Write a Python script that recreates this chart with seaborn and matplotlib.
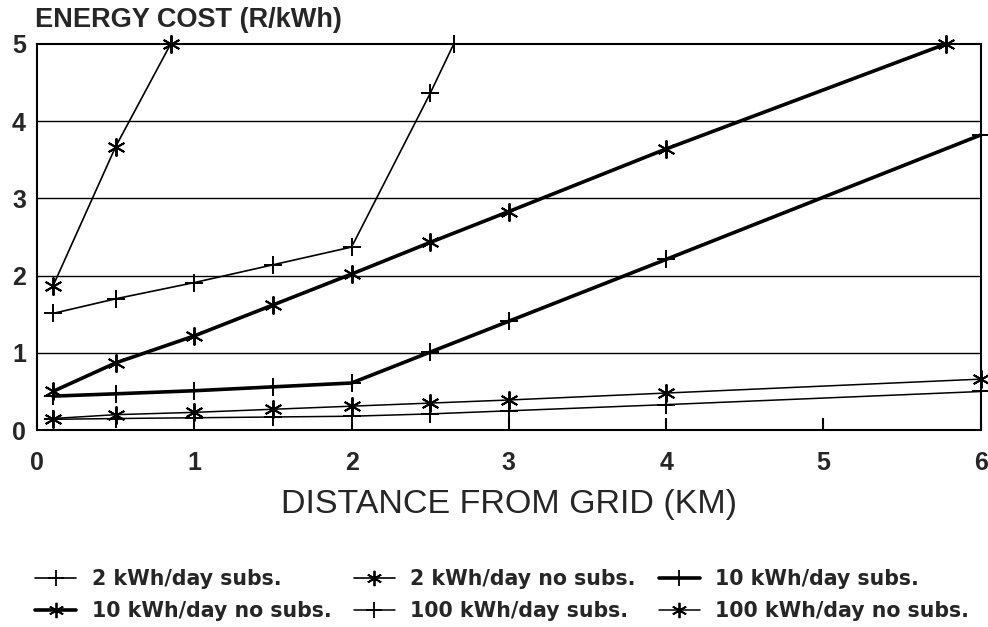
import matplotlib
matplotlib.use("Agg")
import matplotlib.pyplot as plt
import seaborn as sns
import pandas as pd
from matplotlib.lines import Line2D

sns.set_theme(style="white")
plt.rcParams['font.family'] = ['Liberation Sans', 'DejaVu Sans']

# ---- data ----
x_2_subs = [0.1, 0.5, 1.0, 1.5, 2.0, 2.5, 2.65]
y_2_subs = [1.51, 1.70, 1.91, 2.14, 2.37, 4.36, 5.0]

x_2_nosubs = [0.1, 0.5, 0.85]
y_2_nosubs = [1.86, 3.67, 5.0]

x_10_subs = [0.1, 0.5, 1.0, 1.5, 2.0, 2.5, 3.0, 4.0, 6.0]
y_10_subs = [0.44, 0.47, 0.51, 0.56, 0.61, 1.01, 1.41, 2.21, 3.82]

x_10_nosubs = [0.1, 0.5, 1.0, 1.5, 2.0, 2.5, 3.0, 4.0, 5.78]
y_10_nosubs = [0.50, 0.87, 1.22, 1.62, 2.02, 2.43, 2.83, 3.64, 5.0]

x_100_subs = [0.1, 0.5, 1.0, 1.5, 2.0, 2.5, 3.0, 4.0, 6.0]
y_100_subs = [0.14, 0.15, 0.16, 0.17, 0.18, 0.21, 0.25, 0.33, 0.50]

x_100_nosubs = [0.1, 0.5, 1.0, 1.5, 2.0, 2.5, 3.0, 4.0, 6.0]
y_100_nosubs = [0.15, 0.20, 0.23, 0.27, 0.31, 0.35, 0.39, 0.48, 0.66]

labels = ["2 kWh/day subs.", "2 kWh/day no subs.", "10 kWh/day subs.",
          "10 kWh/day no subs.", "100 kWh/day subs.", "100 kWh/day no subs."]
x_ticks = [0, 1, 2, 3, 4, 5, 6]
y_ticks = [0, 1, 2, 3, 4, 5]

ASTER = (6, 2, 0)
series = [
    (x_2_subs, y_2_subs, '+', 1.2),
    (x_2_nosubs, y_2_nosubs, ASTER, 1.2),
    (x_10_subs, y_10_subs, '+', 2.6),
    (x_10_nosubs, y_10_nosubs, ASTER, 2.6),
    (x_100_subs, y_100_subs, '+', 1.1),
    (x_100_nosubs, y_100_nosubs, ASTER, 1.1),
]

fig = plt.figure(figsize=(9.88, 6.27), dpi=100)
ax = fig.add_axes([0.0375, 0.314, 0.955, 0.616])

for ax_i in range(1, 5):
    ax.axhline(ax_i, color='black', lw=1.0, zorder=1)

handles = []
for (xs, ys, m, lw), lab in zip(series, labels):
    df = pd.DataFrame({"x": xs, "y": ys})
    sns.lineplot(data=df, x="x", y="y", ax=ax, color='black', lw=lw,
                 marker=m, markersize=13, markeredgewidth=1.4,
                 markeredgecolor='black', markerfacecolor='black',
                 clip_on=False, zorder=3, sort=False)
    handles.append(Line2D([], [], color='black', lw=lw, marker=m,
                          markersize=11, markeredgewidth=1.3))

ax.set_xlim(0, 6)
ax.set_ylim(0, 5)
ax.set_xticks(x_ticks)
ax.set_yticks(y_ticks)
ax.tick_params(axis='x', direction='in', length=9, width=1.5, color='black',
               bottom=True, labelsize=18, pad=15)
ax.tick_params(axis='y', length=0, labelsize=18, pad=8)
for lab in ax.get_xticklabels() + ax.get_yticklabels():
    lab.set_fontweight('bold')
for s in ax.spines.values():
    s.set_color('black')
    s.set_linewidth(1.5)

ax.set_xlabel("DISTANCE FROM GRID (KM)", fontsize=24.5, labelpad=10)
ax.set_ylabel("")
fig.text(0.035, 0.947, "ENERGY COST (R/kWh)", fontsize=19.5, fontweight='bold',
         ha='left', va='bottom')

order = [0, 3, 1, 4, 2, 5]
fig.legend([handles[i] for i in order], [labels[i] for i in order],
           loc='center left', bbox_to_anchor=(0.025, 0.051), ncol=3,
           frameon=False,
           prop={'family': 'DejaVu Sans', 'size': 14.8, 'weight': 'bold'},
           handlelength=2.0, columnspacing=1.1, handletextpad=0.75,
           labelspacing=0.6, borderpad=0.0)

fig.savefig("out.png", dpi=100)
